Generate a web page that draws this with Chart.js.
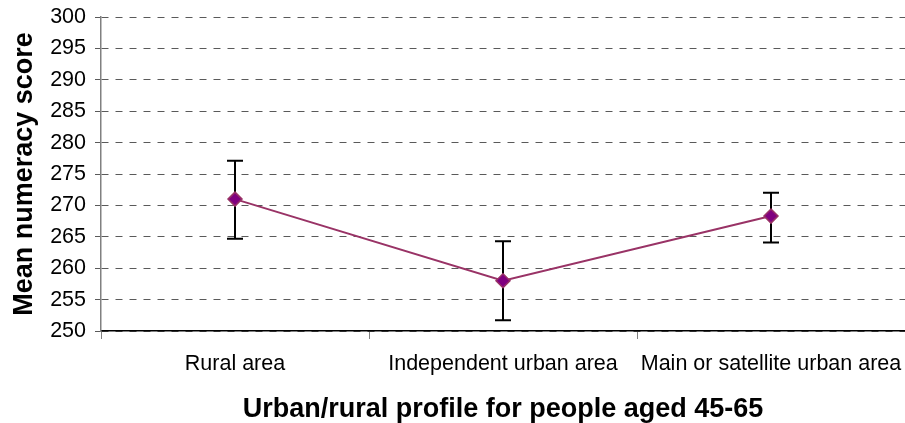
<!DOCTYPE html>
<html>
<head>
<meta charset="utf-8">
<script src="https://cdn.jsdelivr.net/npm/chart.js@4"></script>
<style>
  html, body { margin: 0; padding: 0; background: #fff; }
  #wrap { width: 905px; height: 423px; }
</style>
</head>
<body>
<div id="wrap"><canvas id="chart" width="905" height="423"></canvas></div>
<script>
const categories = ['Rural area', 'Independent urban area', 'Main or satellite urban area'];
const meanScores = [271.0, 258.0, 268.3];
const lowerBounds = [264.7, 251.7, 264.1];
const upperBounds = [277.1, 264.3, 272.0];

const FONT = "'Liberation Sans', Arial, sans-serif";

// whiskers with caps, drawn under the line so the markers sit on top
const errorBars = {
    id: 'errorBars',
    beforeDatasetsDraw(chart) {
        const ctx = chart.ctx;
        const x = chart.scales.x;
        const y = chart.scales.y;
        ctx.save();
        ctx.strokeStyle = '#000';
        ctx.lineWidth = 2;
        categories.forEach((c, i) => {
            const px = x.getPixelForValue(i);
            const lo = y.getPixelForValue(lowerBounds[i]);
            const hi = y.getPixelForValue(upperBounds[i]);
            ctx.beginPath();
            ctx.moveTo(px, lo);
            ctx.lineTo(px, hi);
            ctx.moveTo(px - 8, lo);
            ctx.lineTo(px + 8, lo);
            ctx.moveTo(px - 8, hi);
            ctx.lineTo(px + 8, hi);
            ctx.stroke();
        });
        ctx.restore();
    }
};

new Chart(document.getElementById('chart'), {
    type: 'line',
    data: {
        labels: categories,
        datasets: [{
            data: meanScores,
            borderColor: '#993366',
            borderWidth: 2,
            pointStyle: 'rectRot',
            pointRadius: 7,
            pointBackgroundColor: '#800080',
            pointBorderColor: '#993366',
            pointBorderWidth: 1.5,
            tension: 0
        }]
    },
    options: {
        responsive: false,
        animation: false,
        layout: { autoPadding: false, padding: { top: 17, right: 0, left: 0, bottom: 0 } },
        plugins: { legend: { display: false }, tooltip: { enabled: false } },
        scales: {
            x: {
                offset: true,
                grid: { display: true, drawOnChartArea: false, offset: true, tickLength: 8, color: '#808080' },
                border: { color: '#000', width: 1.5 },
                ticks: { color: '#000', font: { family: FONT, size: 21.5 }, padding: 12, maxRotation: 0 },
                title: {
                    display: true, text: 'Urban/rural profile for people aged 45-65',
                    color: '#000', font: { family: FONT, size: 27, weight: 'bold' }, padding: { top: 18, bottom: -3 }
                },
                afterFit(scale) {
                    scale.height = 92;
                    // let the plot run to the right edge of the canvas
                    scale.paddingLeft = 0;
                    scale.paddingRight = 0;
                }
            },
            y: {
                min: 250,
                max: 300,
                ticks: { stepSize: 5, color: '#000', font: { family: FONT, size: 21.5 }, padding: 9 },
                grid: { color: '#5a5a5a', tickLength: 6, tickBorderDash: [], lineWidth: 1 },
                border: { color: '#808080', width: 1.5, dash: [7, 7] },
                title: {
                    display: true, text: 'Mean numeracy score',
                    color: '#000', font: { family: FONT, size: 27, weight: 'bold' }, padding: { top: 8, bottom: 2 }
                },
                afterFit(scale) {
                    scale.width = 101;
                    scale.paddingTop = 0;
                    scale.paddingBottom = 0;
                }
            }
        }
    },
    plugins: [errorBars]
});
</script>
</body>
</html>
